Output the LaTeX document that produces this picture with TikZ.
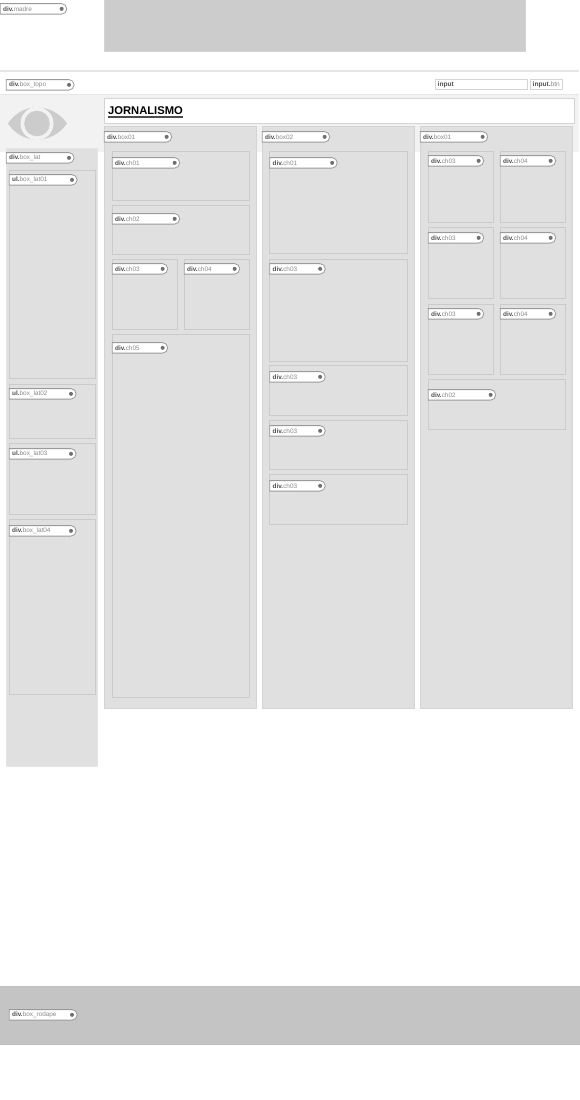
\documentclass[tikz,border=0pt]{standalone}
\usepackage{fontspec}
\setmainfont{Liberation Sans}
\usetikzlibrary{shapes.misc}
\definecolor{boxfill}{HTML}{E0E0E0}
\definecolor{boxline}{HTML}{D4D4D4}
\definecolor{chline}{HTML}{CBCBCB}
\definecolor{tagline}{HTML}{9A9A9A}
\definecolor{tagtext}{HTML}{8A8A8A}
\definecolor{tagbold}{HTML}{505050}
\definecolor{dotgray}{HTML}{707070}
\definecolor{bandgray}{HTML}{F2F2F2}
\definecolor{rulegray}{HTML}{E6E6E6}
\tikzset{
  areabox/.style={draw=boxline,fill=boxfill,line width=1pt},
  chbox/.style={draw=chline,fill=boxfill,line width=0.9pt},
  tagpill/.style={draw=tagline,fill=white,line width=0.8pt,rounded rectangle,rounded rectangle left arc=none,
    anchor=north west,minimum height=10.5pt,inner sep=0pt,inner xsep=3pt,align=left,font=\fontsize{6.4}{7}\selectfont,text=tagtext},
  inputbox/.style={draw=boxline,fill=white,line width=0.8pt,anchor=north west,minimum height=10pt,inner sep=0pt,inner xsep=2.5pt,
    align=left,font=\fontsize{6.6}{7}\selectfont,text=tagtext},
}
\newcommand{\tagat}[6]{%
  \node[tagpill,text width=#4pt-7pt] (#1) at (#2,#3) {\textcolor{tagbold}{\textbf{#5}}#6};
  \fill[dotgray] (#1.east) ++(-5.5,0) circle (2pt);}

\begin{document}
\begin{tikzpicture}[x=1pt,y=-1pt]
\useasboundingbox (0,0) rectangle (579,1100);
\fill[white] (0,0) rectangle (579,1100);
% topo
\draw[draw=boxline,fill=black!20,line width=0.6pt] (104,-2) rectangle (525,51);
\draw[rulegray,line width=1.2pt] (0,71) -- (579,71);
\fill[bandgray] (0,94) rectangle (579,152);
\draw[rulegray,line width=0.8pt] (0,94) -- (579,94);
% olho
\fill[black!20] (8,123.5) .. controls (22,102) and (52,102) .. (67,123.5) .. controls (52,145) and (22,145) .. (8,123.5) -- cycle;
\fill[bandgray] (37,123.5) circle (16.5pt);
\fill[black!20] (37,123.5) circle (12.8pt);
% titulo
\node[draw=boxline,fill=white,line width=0.8pt,anchor=north west,minimum width=469.5pt,minimum height=25pt,inner sep=0pt] (titlebox) at (104,98) {};
\node[anchor=west,inner sep=0pt,font=\bfseries\fontsize{11.2}{12}\selectfont] (title) at (108,110.5) {JORNALISMO};
\draw[black!70,line width=1.5pt] (title.west |- 0,117) -- (title.east |- 0,117);
% lateral
\draw[draw=rulegray,fill=boxfill,line width=1pt] (6,148) rectangle (97.6,766);
\draw[chbox] (9,170) rectangle (95.6,378);
\draw[chbox] (9,384) rectangle (95.6,438);
\draw[chbox] (9,443) rectangle (95.6,514);
\draw[chbox] (9,519) rectangle (95.6,694);
% box01
\draw[areabox] (104,126) rectangle (256.6,708);
\draw[chbox] (112,151) rectangle (249.6,200);
\draw[chbox] (112,205) rectangle (249.6,254);
\draw[chbox] (112,259) rectangle (177.6,329);
\draw[chbox] (184,259) rectangle (249.6,329);
\draw[chbox] (112,334) rectangle (249.6,697);
% box02
\draw[areabox] (262,126) rectangle (414.6,708);
\draw[chbox] (269.5,151) rectangle (407.6,253);
\draw[chbox] (269.5,259) rectangle (407.6,361);
\draw[chbox] (269.5,365) rectangle (407.6,415);
\draw[chbox] (269.5,420) rectangle (407.6,469);
\draw[chbox] (269.5,474) rectangle (407.6,524);
% box01 direita
\draw[areabox] (420,126) rectangle (572.6,708);
\draw[chbox] (428,151) rectangle (493.6,222);
\draw[chbox] (500,151) rectangle (565.6,222);
\draw[chbox] (428,227) rectangle (493.6,298);
\draw[chbox] (500,227) rectangle (565.6,298);
\draw[chbox] (428,304) rectangle (493.6,374);
\draw[chbox] (500,304) rectangle (565.6,374);
\draw[chbox] (428,379) rectangle (565.6,429);
% rodape
\draw[draw=black!25,fill=black!23,line width=0.6pt] (-2,986) rectangle (581,1044);
% etiquetas
\begin{scope}[shift={(-0.2,0.2)}]
\tagat{madre}{0}{3}{67}{div.}{madre}
\tagat{boxtopo}{6}{79}{68}{div.}{box\_topo}
\node[inputbox,text width=87pt] (searchinput) at (435,79) {\textcolor{tagbold}{\textbf{input}}};
\node[inputbox,text width=27pt] (searchbtn) at (530,79) {\textcolor{tagbold}{\textbf{input.}}btn};
\tagat{boxlat}{6}{152}{68}{div.}{box\_lat}
\tagat{boxlatone}{9}{174}{68}{ul.}{box\_lat01}
\tagat{boxlattwo}{9}{388}{67}{ul.}{box\_lat02}
\tagat{boxlatthree}{9}{448}{67}{ul.}{box\_lat03}
\tagat{boxlatfour}{9}{525}{67}{div.}{box\_lat04}
\tagat{boxone}{104}{131}{68}{div.}{box01}
\tagat{aone}{112}{157}{68}{div.}{ch01}
\tagat{atwo}{112}{213}{68}{div.}{ch02}
\tagat{athree}{112}{263}{56}{div.}{ch03}
\tagat{afour}{184}{263}{56}{div.}{ch04}
\tagat{afive}{112}{342}{56}{div.}{ch05}
\tagat{boxtwo}{262}{131}{68}{div.}{box02}
\tagat{bone}{269.5}{157}{68}{div.}{ch01}
\tagat{bthree}{269.5}{263}{56}{div.}{ch03}
\tagat{bfour}{269.5}{371}{56}{div.}{ch03}
\tagat{bfive}{269.5}{425}{56}{div.}{ch03}
\tagat{bsix}{269.5}{480}{56}{div.}{ch03}
\tagat{boxthree}{420}{131}{68}{div.}{box01}
\tagat{cone}{428}{155}{56}{div.}{ch03}
\tagat{ctwo}{500}{155}{56}{div.}{ch04}
\tagat{cthree}{428}{232}{56}{div.}{ch03}
\tagat{cfour}{500}{232}{56}{div.}{ch04}
\tagat{cfive}{428}{308}{56}{div.}{ch03}
\tagat{csix}{500}{308}{56}{div.}{ch04}
\tagat{cseven}{428}{389}{68}{div.}{ch02}
\tagat{rodape}{9}{1009}{68}{div.}{box\_rodape}
\end{scope}
\end{tikzpicture}
\end{document}
